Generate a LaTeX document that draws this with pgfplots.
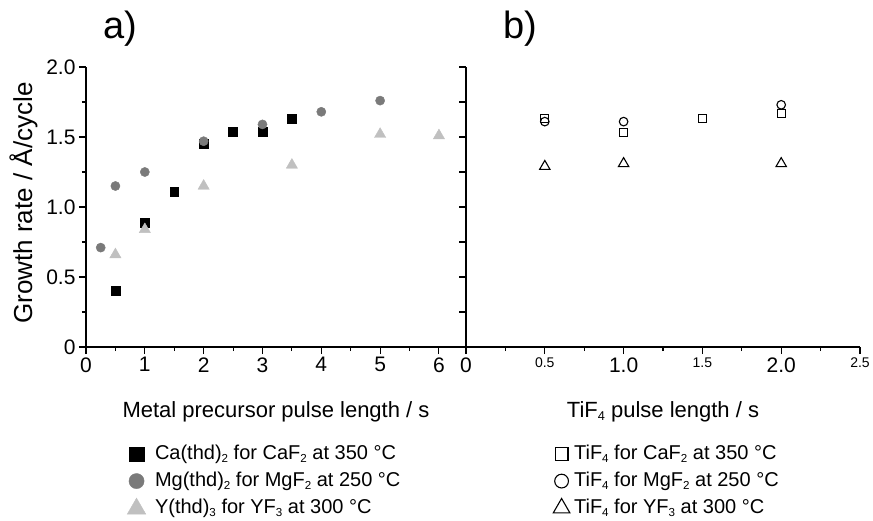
\documentclass[border=0pt]{standalone}
\usepackage{fontspec}
\setmainfont{Liberation Sans}
\usepackage{pgfplots}
\pgfplotsset{compat=1.18}
\definecolor{cgray}{HTML}{7A7A7A}
\definecolor{tgray}{HTML}{C0C0C0}
\newcommand{\sub}[1]{\raisebox{-0.3ex}{\scalebox{0.58}{#1}}}
\pgfplotsset{
  myaxis/.style={
    scale only axis, height=280pt,
    ymin=0, ymax=2,
    axis x line*=bottom, axis y line*=left,
    axis line style={line width=1.8pt},
    tick style={line width=1.1pt, black},
    tick align=outside,
    major tick length=7pt, minor tick length=4pt,
    /pgf/number format/assume math mode=true,
    ticklabel style={font=\fontsize{21}{21}\selectfont},
    label style={font=\fontsize{22}{22}\selectfont},
    clip=false,
    legend cell align=left,
    legend style={draw=none, fill=none, font=\fontsize{20}{20}\selectfont,
      inner sep=0pt, row sep=7pt, anchor=north west,
      nodes={inner sep=0pt, text height=15pt, text depth=5pt, anchor=west}},
  }
}
\begin{document}
\begin{tikzpicture}
\useasboundingbox (0pt,0pt) rectangle (873pt,-520pt);
% panel a
\begin{axis}[myaxis,
  at={(86pt,-347pt)}, anchor=south west, width=380pt,
  xmin=0, xmax=6.46,
  xtick={0,1,2,3,4,5,6}, minor xtick={0.5,1.5,...,5.5},
  ytick={0,0.5,1,1.5,2}, minor ytick={0.25,0.75,1.25,1.75},
  yticklabels={0,0.5,1.0,1.5,2.0},
  xlabel={Metal precursor pulse length / s},
  xlabel style={at={(axis description cs:0.5,0)}, anchor=base, yshift=-70pt},
  ylabel={Growth rate / Å/cycle},
  ylabel style={at={(axis description cs:-0.142,0.514)}, anchor=base, font=\fontsize{26}{26}\selectfont},
  legend image code/.code={\draw[#1, mark options={scale=1.65}] plot coordinates {(0pt,0pt)}; \path[draw=none, fill=none] (0pt,0pt) -- (18.5pt,0pt);},
  legend style={at={(axis description cs:0.108,-0.346)}},
]
\addplot[only marks, mark=square*, color=black, mark size=4.4pt] coordinates {
 (0.5,0.40) (1,0.89) (1.5,1.11) (2,1.45) (2.5,1.54) (3,1.54) (3.5,1.63)};
\addlegendentry{Ca(thd)\sub{2} for CaF\sub{2} at 350 °C}
\addplot[only marks, mark=*, color=cgray, mark size=4.6pt] coordinates {
 (0.25,0.71) (0.5,1.15) (1,1.25) (2,1.47) (3,1.59) (4,1.68) (5,1.76)};
\addlegendentry{Mg(thd)\sub{2} for MgF\sub{2} at 250 °C}
\addplot[only marks, mark=triangle*, color=tgray, mark size=6.5pt] coordinates {
 (0.5,0.66) (1,0.84) (2,1.15) (3.5,1.30) (5,1.52) (6,1.51)};
\addlegendentry{Y(thd)\sub{3} for YF\sub{3} at 300 °C}
\end{axis}
% panel b
\begin{axis}[myaxis,
  at={(466pt,-347pt)}, anchor=south west, width=394pt,
  xmin=0, xmax=2.5,
  xtick={0,0.5,1,1.5,2,2.5}, minor xtick={0.25,0.75,1.25,1.75,2.25},
  xticklabels={0,{\fontsize{14}{14}\selectfont 0.5},1.0,{\fontsize{14}{14}\selectfont 1.5},2.0,{\fontsize{14}{14}\selectfont 2.5}},
  ytick={0,0.25,...,2}, yticklabels={},
  xlabel={TiF\sub{4} pulse length / s},
  xlabel style={at={(axis description cs:0.5,0)}, anchor=base, yshift=-70pt},
  legend image code/.code={\draw[#1, mark options={scale=1.6}] plot coordinates {(0pt,0pt)}; \path[draw=none, fill=none] (0pt,0pt) -- (12.5pt,0pt);},
  legend style={at={(axis description cs:0.221,-0.346)}},
]
\addplot[only marks, mark=square, color=black, line width=1.1pt, mark size=4pt] coordinates {
 (0.5,1.63) (1,1.53) (1.5,1.63) (2,1.67)};
\addlegendentry{TiF\sub{4} for CaF\sub{2} at 350 °C}
\addplot[only marks, mark=o, color=black, line width=1.1pt, mark size=4.3pt] coordinates {
 (0.5,1.61) (1,1.61) (2,1.73)};
\addlegendentry{TiF\sub{4} for MgF\sub{2} at 250 °C}
\addplot[only marks, mark=triangle, color=black, line width=1.1pt, mark size=6pt] coordinates {
 (0.5,1.29) (1,1.31) (2,1.31)};
\addlegendentry{TiF\sub{4} for YF\sub{3} at 300 °C}
\end{axis}
\node[anchor=base west, inner sep=0pt, font=\fontsize{38}{38}\selectfont] at (103pt,-38pt) {a)};
\node[anchor=base west, inner sep=0pt, font=\fontsize{38}{38}\selectfont] at (503pt,-38pt) {b)};
\end{tikzpicture}
\end{document}
